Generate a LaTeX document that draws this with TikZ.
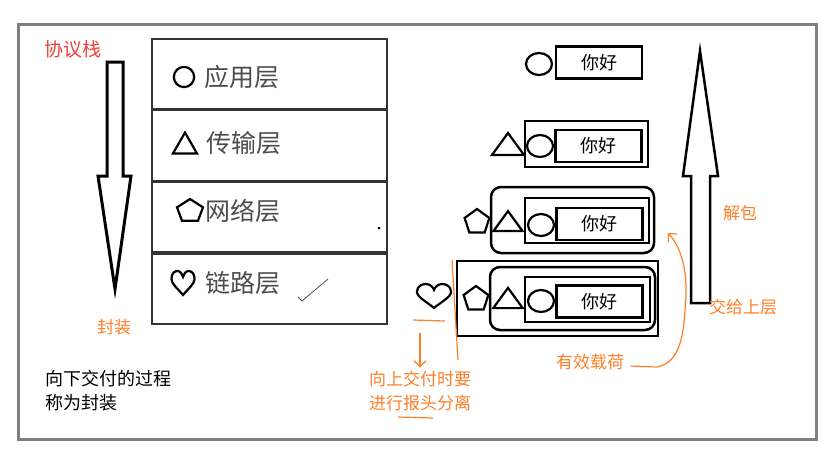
\documentclass[tikz,border=0pt]{standalone}
\usepackage{fontspec}
\setmainfont{Noto Sans CJK SC}
\usetikzlibrary{positioning,arrows.meta}
\definecolor{noteorange}{HTML}{FF7F27}
\definecolor{titlered}{HTML}{F23D3D}
\definecolor{framegray}{HTML}{808080}
\begin{document}
\begin{tikzpicture}[x=1pt, y=-1pt,
    layer/.style = {draw=black!80, line width=1.6pt, minimum width=235pt, minimum height=70pt},
    lname/.style = {text=black!70, font=\fontsize{25}{25}\selectfont, anchor=west, inner sep=0pt},
    pkt/.style = {draw, line width=2.5pt, minimum width=86pt, minimum height=32pt, font=\fontsize{18}{18}\selectfont},
    box/.style = {draw, line width=2.5pt},
    sym/.style = {draw, line width=2.2pt},
    note/.style = {text=noteorange, font=\fontsize{17}{24}\selectfont},
    scrib/.style = {draw=noteorange, line width=1.2pt},
    barb/.style = {-{Straight Barb[length=6pt, width=12pt]}},
    tri/.pic = {\draw[sym] (-16,11) -- (0,-11) -- (16,11) -- cycle;},
    pent/.pic = {\draw[sym] (-90:13) -- (-18:13) -- (54:13) -- (126:13) -- (198:13) -- cycle;},
    oval/.pic = {\draw[sym] (0,0) ellipse [x radius=13, y radius=11];},
    heartsym/.pic = {\draw[sym] (0,11) .. controls (-7,5) and (-17,0) .. (-17,-5)
        .. controls (-17,-11) and (-12,-13) .. (-8,-13) .. controls (-4,-13) and (-1,-10) .. (0,-7)
        .. controls (1,-10) and (4,-13) .. (8,-13) .. controls (12,-13) and (17,-11) .. (17,-5)
        .. controls (17,0) and (7,5) .. (0,11) -- cycle;}]
    \useasboundingbox (0,0) rectangle (839,459);
    \draw[framegray, line width=3pt] (18,24) rectangle (816,439);

    % protocol stack
    \node[text=titlered, font=\fontsize{19}{19}\selectfont] (stack) at (73,49) {协议栈};
    \node[layer] (app) at (269.5,74) {};
    \node[layer] (trans) [below=0pt of app] {};
    \node[layer] (net) [below=0pt of trans] {};
    \node[layer] (link) [below=0pt of net] {};
    \pic[xscale=0.78, yscale=0.92] at (184,77) {oval};
    \pic[xscale=0.75, yscale=0.95] at (185,143) {tri};
    \pic[xscale=1.05, yscale=0.92] at (190,211) {pent};
    \pic[xscale=0.68] at (183,284) {heartsym};
    \node[lname] (appname) at (204,77) {应用层};
    \node[lname] (transname) at (206,143) {传输层};
    \node[lname] (netname) at (205,211) {网络层};
    \node[lname] (linkname) at (205,283) {链路层};
    \draw[black!70, line width=0.8pt] (298,297) -- (302,301) -- (328,279);
    \fill (379,228) circle (1.5);

    % down arrow
    \draw[line width=3pt, line join=miter] (107,62) -- (123,62) -- (123,176) -- (131,176)
        -- (115,289) -- (98,176) -- (107,176) -- cycle;
    \node[note] (encap) at (114,327) {封装};
    \node[font=\fontsize{18}{24}\selectfont, align=left, anchor=west] (down) at (42,391)
        {向下交付的过程\\称为封装};

    % packets
    \pic at (539,64) {oval};
    \node[pkt] (p1) at (599,62.5) {你好};

    \draw[box] (525,121) rectangle (648,167);
    \pic at (508,144) {tri};
    \pic at (540,146) {oval};
    \node[pkt] (p2) at (598.5,146) {你好};

    \draw[box, rounded corners=10pt] (491,187) rectangle (654,253);
    \draw[box] (525,198) rectangle (649,243);
    \pic at (477,222) {pent};
    \pic[scale=0.9] at (508,221) {tri};
    \pic at (541,225) {oval};
    \node[pkt] (p3) at (599.5,224) {你好};

    \draw[box] (457,261) rectangle (658,336);
    \draw[box, rounded corners=10pt] (490,267) rectangle (655,330);
    \draw[box] (525,277) rectangle (650,322);
    \pic at (434,297) {heartsym};
    \pic at (476,299) {pent};
    \pic[scale=0.92] at (508,298) {tri};
    \pic at (541,301) {oval};
    \node[pkt] (p4) at (599.5,301.5) {你好};

    % up arrow
    \draw[line width=2.5pt, line join=miter] (691,303) -- (710,303) -- (710,176) -- (718,176)
        -- (700,51) -- (683,176) -- (691,176) -- cycle;
    \node[note] (unpack) at (740,213) {解包};
    \node[note] (handup) at (743,307) {交给上层};

    % notes
    \node[note] (payload) at (590,362) {有效载荷};
    \coordinate (tip) at (668,233);
    \draw[scrib, barb] ([xshift=3pt, yshift=-4pt]payload.east) -- (657,367)
        .. controls (684,362) and (684,325) .. (686,295)
        .. controls (687,265) and (679,245) .. (tip);

    \node[note, align=center] (upnote) at (420,391) {向上交付时要\\进行报头分离};
    \coordinate (d0) at (420,333);
    \draw[scrib] (413,320) -- (445,321);
    \draw[scrib, barb] (d0) -- (d0 |- upnote.north);
    \draw[scrib] (452,260) -- (458,360);
    \draw[scrib] (398,417) -- (433,418);
\end{tikzpicture}
\end{document}
